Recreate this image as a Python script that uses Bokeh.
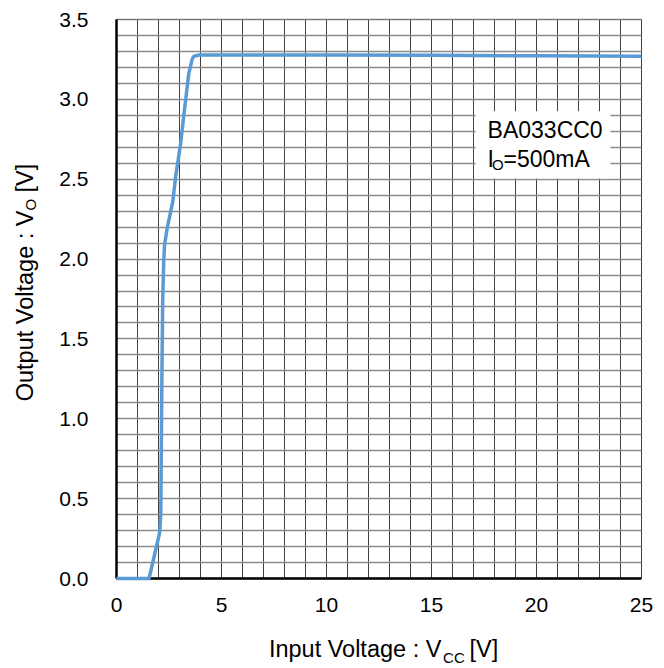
from bokeh.plotting import figure
from bokeh.models import (SingleIntervalTicker, PrintfTickFormatter, Label, BoxAnnotation,
                          ColumnDataSource, Range1d)
from bokeh.embed import file_html
from bokeh.resources import INLINE
import math

# ---- data ----
vcc = [0, 1.55, 2.06, 2.11, 2.16, 2.2, 2.25, 2.29, 2.41, 2.68, 2.81, 3.05, 3.17, 3.44,
       3.6, 3.68, 3.94, 10, 15, 20, 25]
vo = [0, 0, 0.29, 0.41, 1.24, 1.74, 1.99, 2.09, 2.19, 2.36, 2.51, 2.72, 2.86, 3.16,
      3.25, 3.27, 3.278, 3.278, 3.276, 3.273, 3.27]

x_lim = (0, 25)
y_lim = (0, 3.5)
legend_line1 = "BA033CC0"
legend_sub_main = "I"
legend_sub = "O"
legend_rest = "=500mA"
x_title = ("Input Voltage : V", "CC", "[V]")
y_title = ("Output Voltage : V", "O", "[V]")

FONT = "Liberation Sans"
W, H = 660, 668
# plot-area placement on the canvas (pixels)
PL, PT, PW, PH = 116, 19, 525, 559
sx = PW / (x_lim[1] - x_lim[0])
sy = PH / (y_lim[1] - y_lim[0])
x_start = x_lim[0] - PL / sx
x_end = x_start + W / sx
y_end = y_lim[1] + PT / sy
y_start = y_end - H / sy

p = figure(width=W, height=H, output_backend="svg", toolbar_location=None,
           x_range=Range1d(x_start, x_end), y_range=Range1d(y_start, y_end),
           min_border=0, background_fill_color="white", border_fill_color="white")
p.outline_line_color = None

# grids (restricted to the plot area)
p.xgrid.ticker = SingleIntervalTicker(interval=1, num_minor_ticks=0)
p.ygrid.ticker = SingleIntervalTicker(interval=0.1, num_minor_ticks=0)
p.xgrid.grid_line_color = "#404040"
p.xgrid.grid_line_width = 1
p.ygrid.grid_line_color = "#8c8c8c"
p.ygrid.grid_line_width = 1.3
p.xgrid.bounds = x_lim
p.ygrid.bounds = y_lim
try:
    p.xgrid.cross_bounds = y_lim
    p.ygrid.cross_bounds = x_lim
except AttributeError:
    for kw in (dict(right=x_lim[0]), dict(left=x_lim[1]), dict(top=y_lim[0]), dict(bottom=y_lim[1])):
        p.add_layout(BoxAnnotation(fill_color="white", fill_alpha=1, line_alpha=0,
                                   level="underlay", **kw))

# plot-area border
p.add_layout(BoxAnnotation(left=x_lim[0], right=x_lim[1], bottom=y_lim[0], top=y_lim[1],
                           fill_alpha=0, line_color="#404040", line_width=1, level="underlay"))

# axes (fixed at the plot-area edges)
p.xaxis.ticker = SingleIntervalTicker(interval=5, num_minor_ticks=0)
p.yaxis.ticker = SingleIntervalTicker(interval=0.5, num_minor_ticks=0)
p.yaxis.formatter = PrintfTickFormatter(format="%.1f")
p.xaxis.fixed_location = y_lim[0]
p.yaxis.fixed_location = x_lim[0]
p.xaxis.bounds = x_lim
p.yaxis.bounds = y_lim
for ax in (p.xaxis[0], p.yaxis[0]):
    ax.axis_line_color = "black"
    ax.axis_line_width = 2.5
    ax.major_tick_line_color = None
    ax.minor_tick_line_color = None
    ax.major_tick_out = 0
    ax.major_tick_in = 0
    ax.major_label_text_font = FONT
    ax.major_label_text_font_size = "21px"
    ax.major_label_text_color = "black"
p.xaxis.major_label_standoff = 19
p.yaxis.major_label_standoff = 28

# curve
src = ColumnDataSource(dict(x=vcc, y=vo))
p.line("x", "y", source=src, line_color="#5B9BD5", line_width=3.5, level="overlay")

# legend box
p.add_layout(BoxAnnotation(left=17.1, right=23.52, bottom=2.505, top=2.925,
                           fill_color="white", fill_alpha=1.0, line_alpha=0,
                           level="overlay"))


def lab(x, y, text, size, align="left", angle=0.0, level="overlay"):
    p.add_layout(Label(x=x, y=y, text=text, text_font=FONT, text_font_size=size,
                       text_baseline="middle", text_align=align, angle=angle,
                       text_color="black", level=level))


lab(17.67, 2.806, legend_line1, "23px")
lab(17.67, 2.628, legend_sub_main, "23px")
lab(17.88, 2.592, legend_sub, "15px")
lab(18.43, 2.628, legend_rest, "23px")

# x axis title
lab(15.47, -0.44, x_title[0], "23.5px", align="right")
lab(15.55, -0.495, x_title[1], "15px")
lab(16.81, -0.44, x_title[2], "23.5px")

# y axis title (rotated)
lab(-4.38, 2.304, y_title[0], "23.5px", align="right", angle=math.pi / 2)
lab(-4.09, 2.304, y_title[1], "15px", angle=math.pi / 2)
lab(-4.38, 2.417, y_title[2], "23.5px", angle=math.pi / 2)

open("out.html", "w").write(file_html(p, INLINE))
